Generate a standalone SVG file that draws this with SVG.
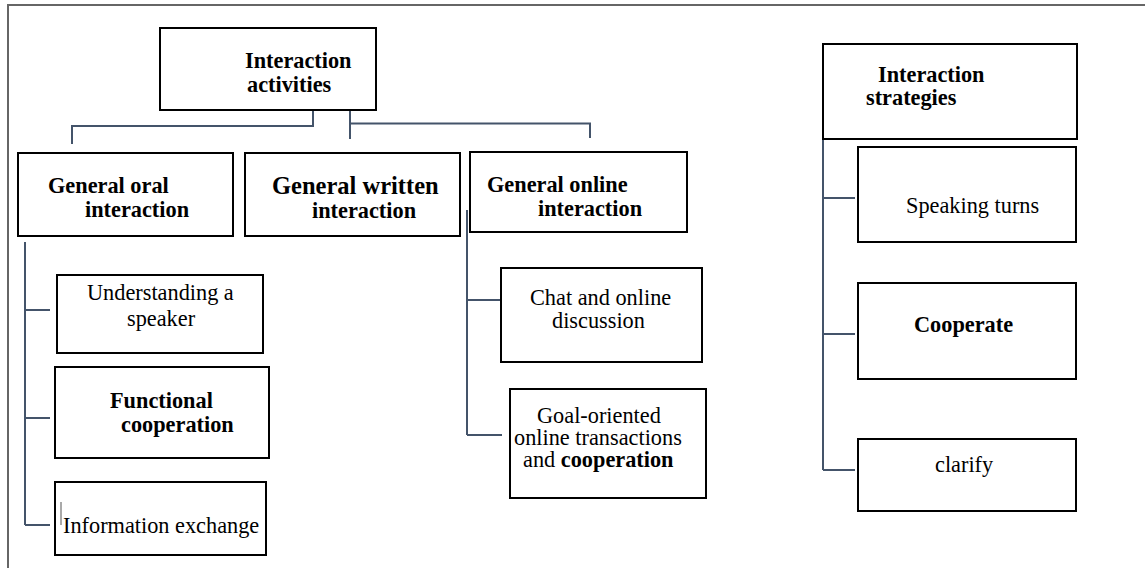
<svg xmlns="http://www.w3.org/2000/svg" width="1145" height="568" viewBox="0 0 1145 568">
<style>
.box{fill:#fff;stroke:#000;stroke-width:2}
.frame{fill:none;stroke:#666;stroke-width:2}
.conn{fill:none;stroke:#44546a;stroke-width:2}
text{font-family:"Liberation Serif","Times New Roman",Tinos,"DejaVu Serif",serif;font-size:22.3px;fill:#000}
.b{font-weight:bold}
</style>
<rect width="1145" height="568" fill="#fff"/>
<path class="frame" d="M8,568 V5 H1145"/>
<g id="connectors">
<path class="conn" d="M313,110 V126 H72 V144"/>
<path class="conn" d="M350,106 V139 M350,123.5 H590 V138"/>
<path class="conn" d="M25,242 V525 M25,310 H50 M25,418 H50 M25,525 H50"/>
<path class="conn" d="M467,210 V435 M467,300 H501 M467,435 H502"/>
<path class="conn" d="M823,139 V470 M823,198 H855 M823,334 H855 M823,470 H855"/>
</g>
<g id="interaction-activities">
<rect class="box" x="160" y="28" width="216" height="82"/>
<text class="b" x="245" y="68">Interaction</text>
<text class="b" x="247" y="92">activities</text>
</g>
<g id="general-oral">
<rect class="box" x="18" y="153" width="215" height="83"/>
<text class="b" x="48" y="193">General oral</text>
<text class="b" x="85" y="217">interaction</text>
</g>
<g id="general-written">
<rect class="box" x="245" y="153" width="215" height="83"/>
<text class="b" x="272" y="194" style="font-size:24.5px">General written</text>
<text class="b" x="312" y="218">interaction</text>
</g>
<g id="general-online">
<rect class="box" x="470" y="152" width="217" height="80"/>
<text class="b" x="487" y="192">General online</text>
<text class="b" x="538" y="216">interaction</text>
</g>
<g id="understanding">
<rect class="box" x="57" y="275" width="206" height="78"/>
<text x="87" y="300">Understanding a</text>
<text x="127" y="326">speaker</text>
</g>
<g id="functional">
<rect class="box" x="55" y="367" width="214" height="91"/>
<text class="b" x="110" y="408">Functional</text>
<text class="b" x="121" y="432">cooperation</text>
</g>
<g id="information">
<rect class="box" x="55" y="482" width="211" height="73"/>
<line x1="61" y1="502" x2="61" y2="525" stroke="#555" stroke-width="1"/>
<text x="63" y="533">Information exchange</text>
</g>
<g id="chat">
<rect class="box" x="501" y="268" width="201" height="94"/>
<text x="530" y="305">Chat and online</text>
<text x="552" y="328">discussion</text>
</g>
<g id="goal">
<rect class="box" x="510" y="389" width="196" height="109"/>
<text x="537" y="423">Goal-oriented</text>
<text x="514" y="445">online transactions</text>
<text x="523" y="467">and <tspan class="b">cooperation</tspan></text>
</g>
<g id="interaction-strategies">
<rect class="box" x="823" y="44" width="254" height="95"/>
<text class="b" x="878" y="82">Interaction</text>
<text class="b" x="866" y="105">strategies</text>
</g>
<g id="speaking">
<rect class="box" x="858" y="147" width="218" height="95"/>
<text x="906" y="213">Speaking turns</text>
</g>
<g id="cooperate">
<rect class="box" x="858" y="283" width="218" height="96"/>
<text class="b" x="914" y="332">Cooperate</text>
</g>
<g id="clarify">
<rect class="box" x="858" y="439" width="218" height="72"/>
<text x="935" y="472">clarify</text>
</g>
</svg>
